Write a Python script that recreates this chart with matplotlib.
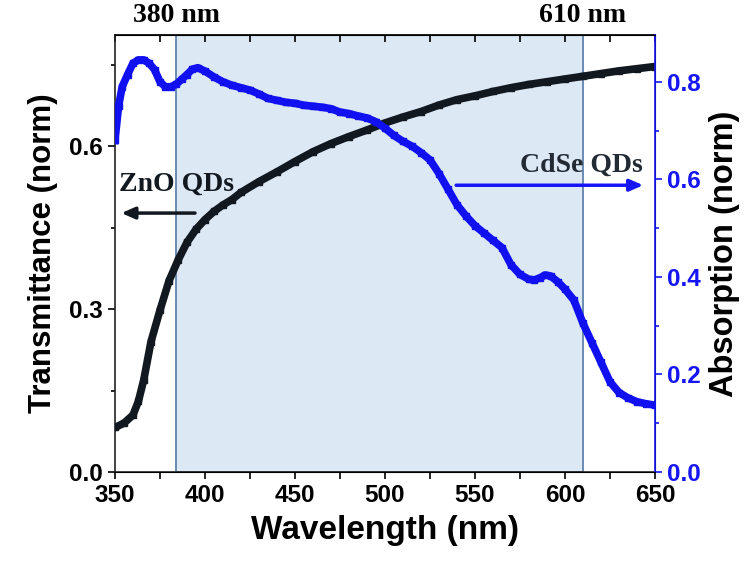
import numpy as np
import matplotlib.pyplot as plt

# transmittance (left axis, black)
wl_t = [350, 355, 360, 363, 366, 370, 375, 380, 385, 390, 395, 400, 405, 410, 415, 420,
        430, 440, 450, 460, 470, 480, 490, 500, 510, 520, 530, 540, 550, 560, 570, 580,
        590, 600, 610, 620, 630, 640, 650]
trans = [0.082, 0.090, 0.105, 0.130, 0.170, 0.240, 0.298, 0.352, 0.390, 0.423, 0.447, 0.465,
         0.480, 0.492, 0.502, 0.515, 0.535, 0.553, 0.572, 0.590, 0.605, 0.618, 0.630, 0.643,
         0.654, 0.664, 0.676, 0.686, 0.693, 0.701, 0.708, 0.714, 0.719, 0.724, 0.729, 0.734,
         0.739, 0.743, 0.747]

# absorption (right axis, blue)
wl_a = [350, 352, 354, 357, 360, 363, 366, 369, 372, 375, 378, 381, 384, 387, 390, 393, 396,
        400, 405, 410, 415, 420, 425, 430, 435, 440, 445, 450, 455, 460, 465, 470, 475, 480,
        485, 490, 495, 500, 505, 510, 515, 520, 525, 530, 535, 540, 545, 550, 555, 560, 565,
        570, 575, 580, 583, 586, 589, 592, 596, 600, 605, 610, 615, 620, 625, 630, 635, 640,
        645, 650]
absorp = [0.68, 0.75, 0.79, 0.815, 0.838, 0.845, 0.845, 0.838, 0.825, 0.80, 0.79, 0.79, 0.795,
          0.805, 0.815, 0.826, 0.829, 0.822, 0.810, 0.800, 0.793, 0.788, 0.783, 0.775, 0.766,
          0.762, 0.758, 0.756, 0.752, 0.750, 0.748, 0.745, 0.738, 0.735, 0.730, 0.726, 0.718,
          0.705, 0.690, 0.678, 0.668, 0.655, 0.640, 0.612, 0.580, 0.548, 0.525, 0.505, 0.490,
          0.475, 0.460, 0.425, 0.405, 0.395, 0.394, 0.398, 0.404, 0.402, 0.390, 0.375, 0.352,
          0.305, 0.265, 0.225, 0.185, 0.163, 0.152, 0.144, 0.140, 0.137]

band = [384, 610]  # shaded window
band_labels = ["380 nm", "610 nm"]

sans = "Liberation Sans"
serif = "Liberation Serif"
blue = "#1515f5"

fig = plt.figure(figsize=(7.5, 5.65), dpi=100)
ax1 = fig.add_axes([0.1533, 0.1646, 0.72, 0.7734])
ax2 = ax1.twinx()

ax1.axvspan(band[0], band[1], facecolor="#dde8f5", edgecolor="#5f84ab", lw=1.3, zorder=0)

ax1.plot(wl_t, trans, color="#111820", lw=5.5, marker="s", ms=5, zorder=3)
ax2.plot(wl_a, absorp, color="#1010f0", lw=5.5, marker="s", ms=5, zorder=3)

ax1.set_xlim(350, 650)
ax1.set_ylim(0, 0.805)
ax2.set_ylim(0, 0.896)

ax1.set_xticks(np.arange(350, 651, 50))
ax1.set_xticks(np.arange(375, 651, 50), minor=True)
ax1.set_yticks([0.0, 0.3, 0.6])
ax1.set_yticks([0.15, 0.45, 0.75], minor=True)
ax2.set_yticks([0.0, 0.2, 0.4, 0.6, 0.8])
ax2.set_yticks([0.1, 0.3, 0.5, 0.7], minor=True)

ax1.tick_params(axis="x", which="both", direction="out", length=5, width=1.2, top=False)
ax1.tick_params(axis="y", which="major", direction="out", length=5, width=1.2)
ax1.tick_params(axis="y", which="minor", direction="out", length=3, width=1.2)
ax1.tick_params(labelsize=17.5)
ax2.tick_params(axis="y", which="major", direction="out", length=5, width=1.2,
                colors=blue, labelsize=17.5)
ax2.tick_params(axis="y", which="minor", direction="out", length=3, width=1.2, colors=blue)

# inward ticks on the top edge
sec = ax1.secondary_xaxis("top")
sec.set_xticks(np.arange(350, 651, 25))
sec.tick_params(direction="in", length=5, width=1.2, labeltop=False)
sec.set_xticklabels([])

for lab in ax1.get_xticklabels() + ax1.get_yticklabels() + ax2.get_yticklabels():
    lab.set_fontweight("bold")
    lab.set_family(sans)

for s in ["left", "bottom", "top"]:
    ax1.spines[s].set_linewidth(1.2)
    ax1.spines[s].set_color("#222222")
ax2.spines["right"].set_color(blue)
ax2.spines["right"].set_linewidth(1.2)
ax2.spines["left"].set_visible(False)
sec.spines["top"].set_linewidth(1.2)

ax1.set_xlabel("Wavelength (nm)", fontsize=24, fontweight="bold", family=sans, labelpad=6)
ax1.set_ylabel("Transmittance (norm)", fontsize=22.5, fontweight="bold", family=sans, labelpad=8)
ax2.set_ylabel("Absorption (norm)", fontsize=23.5, fontweight="bold", family=sans, labelpad=6)

tr = ax1.get_xaxis_transform()
for x, t in zip(band, band_labels):
    ax1.text(x, 1.045, t, transform=tr, ha="center", va="center",
             fontsize=20, fontweight="bold", family=serif)

ax1.text(352, 0.53, "ZnO QDs", ha="left", va="center", fontsize=20,
         fontweight="bold", family=serif, color="#111820", zorder=4)
ax2.text(609, 0.628, "CdSe QDs", ha="center", va="center", fontsize=20,
         fontweight="bold", family=serif, color="#222a33", zorder=4)

ax1.annotate("", xy=(352, 0.477), xytext=(396, 0.477),
             arrowprops=dict(arrowstyle="-|>,head_length=0.8,head_width=0.35",
                             color="#111820", lw=2.5), zorder=4)
ax2.annotate("", xy=(645, 0.588), xytext=(538, 0.588),
             arrowprops=dict(arrowstyle="-|>,head_length=0.8,head_width=0.35",
                             color=blue, lw=2.5), zorder=4)

fig.savefig("out.png", dpi=100)
